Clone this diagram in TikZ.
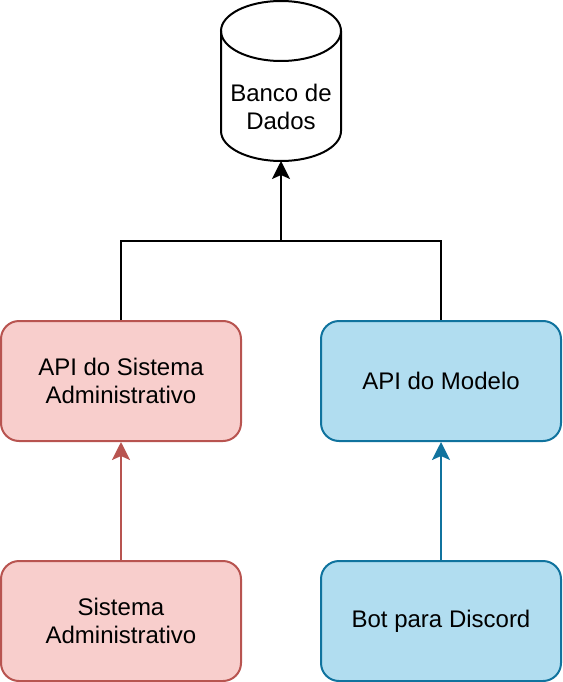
\documentclass[tikz,border=0pt]{standalone}
\usepackage{fontspec}
\setmainfont{Liberation Sans}
\usetikzlibrary{arrows.meta}
\definecolor{redfill}{HTML}{F8CECC}
\definecolor{redline}{HTML}{B85450}
\definecolor{bluefill}{HTML}{B1DDF0}
\definecolor{blueline}{HTML}{10739E}
\begin{document}
\begin{tikzpicture}[x=1pt,y=-1pt,
    box/.style={draw, line width=2pt, rounded corners=18pt, minimum width=240pt,
      minimum height=120pt, inner sep=0pt, align=center, font=\fontsize{24}{28}\selectfont},
    redbox/.style={box, draw=redline, fill=redfill},
    bluebox/.style={box, draw=blueline, fill=bluefill},
    link/.style={line width=2pt, -{Stealth[length=18pt,width=18pt,inset=4pt]}}]
  \useasboundingbox (0,0) rectangle (562,682);
  % banco de dados
  \draw[line width=2pt] (221,31) -- (221,131)
    arc[start angle=180, end angle=360, x radius=60pt, y radius=30pt] -- (341,31);
  \draw[line width=2pt] (281,31) ellipse [x radius=60pt, y radius=30pt];
  \node[align=center, font=\fontsize{24}{28}\selectfont] (db) at (281,107) {Banco de\\Dados};
  \coordinate (dbbase) at (281,161);
  \coordinate (junction) at (281,241);
  % caixas
  \node[redbox] (sysapi) at (121,381) {API do Sistema\\Administrativo};
  \node[bluebox] (modelapi) at (441,381) {API do Modelo};
  \node[redbox] (sys) at (121,621) {Sistema\\Administrativo};
  \node[bluebox] (bot) at (441,621) {Bot para Discord};
  % ligacoes
  \draw[line width=2pt] (sysapi.north) |- (junction) -| (modelapi.north);
  \draw[link] (junction) -- (dbbase);
  \draw[link, redline] (sys.north) -- (sysapi.south);
  \draw[link, blueline] (bot.north) -- (modelapi.south);
\end{tikzpicture}
\end{document}
